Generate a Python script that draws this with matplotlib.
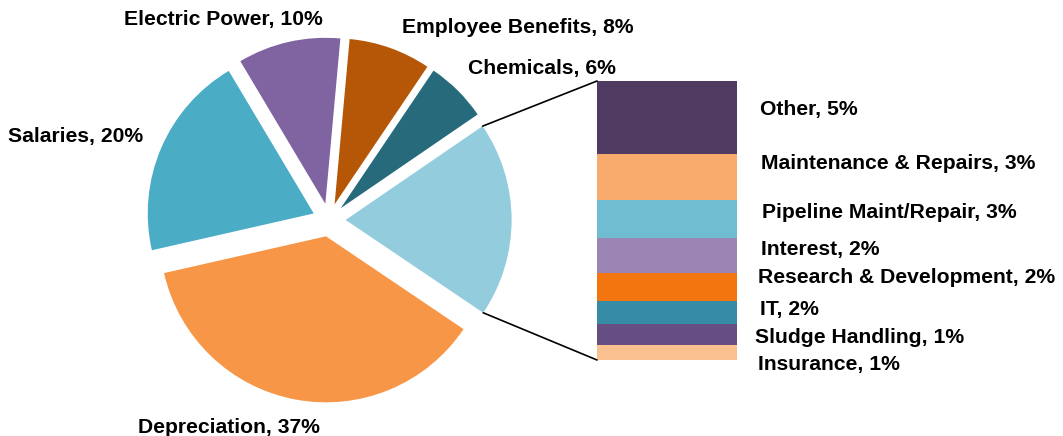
import numpy as np
import matplotlib.pyplot as plt
from matplotlib.patches import ConnectionPatch

plt.rcParams['font.family'] = ['Liberation Sans', 'DejaVu Sans']

# main pie (counter-clockwise from the "other" group)
pie_names = ['Chemicals', 'Employee Benefits', 'Electric Power', 'Salaries', 'Depreciation']
pie_values = [6, 8, 10, 20, 37]
pie_colors = ['#276A7C', '#B65708', '#8064A2', '#4BACC6', '#F79646']
group_color = '#93CDDD'

# breakdown of the "other" group, top to bottom
bar_names = ['Other', 'Maintenance & Repairs', 'Pipeline Maint/Repair', 'Interest',
             'Research & Development', 'IT', 'Sludge Handling', 'Insurance']
bar_values = [4.95, 3.15, 2.6, 2.4, 1.85, 1.6, 1.45, 1.0]
bar_colors = ['#4F3B62', '#F9AB6E', '#70BCD0', '#9B85B4',
              '#F2750F', '#378CA5', '#664E83', '#FAC08F']

W, H = 1063, 436
fig = plt.figure(figsize=(W / 100, H / 100), dpi=100)

# pie axes in pixel units (y up)
ax = fig.add_axes([0, 0, 1, 1])
group_total = sum(bar_values)
values = [group_total] + pie_values
colors = [group_color] + pie_colors
radius = 166
wedges, _ = ax.pie(values, colors=colors, startangle=-34, counterclock=True,
                   center=(329, H - 220), radius=radius,
                   explode=[0.1 * radius] * len(values),
                   wedgeprops=dict(linewidth=0))
ax.set_xlim(0, W)
ax.set_ylim(0, H)
ax.axis('off')

fs = 15.2

# pie labels (x, baseline y from top)
pie_label_pos = [(468, 74), (402, 33), (124, 25), (8, 142), (138, 433)]
for name, v, (x, y) in zip(pie_names, pie_values, pie_label_pos):
    ax.text(x, H - y, f'{name}, {v}%', ha='left', va='baseline',
            fontsize=fs, fontweight='bold')

# stacked bar
bx = fig.add_axes([597 / W, 76 / H, 140 / W, 279 / H])
bottom = group_total
for name, v, c in zip(bar_names, bar_values, bar_colors):
    bottom -= v
    bx.bar(0, v, bottom=bottom, width=1, color=c, linewidth=0)
bx.set_xlim(-0.5, 0.5)
bx.set_ylim(0, group_total)
bx.axis('off')

bar_label_pos = [(760, 115), (761, 169), (762, 218), (761, 255),
                 (758, 283), (760, 315), (755, 343), (758, 370)]
for name, v, (x, y) in zip(bar_names, bar_values, bar_label_pos):
    ax.text(x, H - y, f'{name}, {round(v)}%', ha='left', va='baseline',
            fontsize=fs, fontweight='bold')

# connector lines from the group wedge to the bar
w = wedges[0]
cx, cy = w.center
for theta, yb in [(w.theta2, group_total), (w.theta1, 0)]:
    p = (cx + w.r * np.cos(np.radians(theta)), cy + w.r * np.sin(np.radians(theta)))
    con = ConnectionPatch(xyA=p, coordsA=ax.transData, xyB=(-0.5, yb),
                          coordsB=bx.transData, color='black', linewidth=1.2)
    fig.add_artist(con)

fig.savefig('out.png', dpi=100)
